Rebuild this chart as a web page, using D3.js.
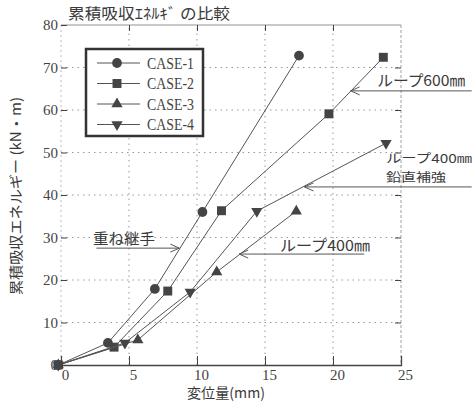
<!DOCTYPE html>
<html>
<head>
<meta charset="utf-8">
<script src="https://cdn.jsdelivr.net/npm/d3@7"></script>
<style>
  body { margin: 0; background: #fff; }
  svg { display: block; }
  .axis path, .axis line { stroke: #444; }
  .jp { font-family: "Noto Sans CJK JP", sans-serif; fill: #3a3a3a; }
</style>
</head>
<body>
<svg id="chart" width="473" height="406"></svg>
<script>
// values
var seriesNames = ["CASE-1", "CASE-2", "CASE-3", "CASE-4"];
var case1X = [-0.2, 3.45, 6.9, 10.4, 17.5];
var case1Y = [0, 5.2, 17.9, 36.0, 72.8];
var case2X = [-0.2, 3.9, 7.85, 11.8, 19.7, 23.7];
var case2Y = [0, 4.2, 17.4, 36.3, 59.1, 72.4];
var case3X = [-0.2, 5.65, 11.45, 17.3];
var case3Y = [0, 5.9, 21.9, 36.2];
var case4X = [-0.2, 4.7, 9.5, 14.4, 23.9];
var case4Y = [0, 5.2, 17.2, 36.2, 52.2];
var xTicks = [0, 5, 10, 15, 20, 25];
var yTicks = [0, 10, 20, 30, 40, 50, 60, 70, 80];

var svg = d3.select("#chart");
var x = d3.scaleLinear().domain([0, 25]).range([61, 401]);
var y = d3.scaleLinear().domain([0, 80]).range([365, 25]);

// dotted grid
var grid = svg.append("g").attr("stroke", "#999").attr("stroke-dasharray", "1.5,4");
grid.selectAll(".gx").data(xTicks.slice(1, -1)).enter().append("line")
    .attr("x1", d => x(d)).attr("x2", d => x(d))
    .attr("y1", y(0)).attr("y2", y(80));
grid.selectAll(".gy").data(yTicks.slice(1, -1)).enter().append("line")
    .attr("x1", x(0)).attr("x2", x(25))
    .attr("y1", d => y(d)).attr("y2", d => y(d));

// frame top / right / left
svg.append("line").attr("x1", x(0)).attr("x2", x(25)).attr("y1", y(80)).attr("y2", y(80))
    .attr("stroke", "#777").attr("stroke-width", 0.8);
svg.append("line").attr("x1", x(25)).attr("x2", x(25)).attr("y1", y(80)).attr("y2", y(0))
    .attr("stroke", "#888").attr("stroke-width", 0.8).attr("stroke-dasharray", "3,2");
svg.append("line").attr("x1", x(0)).attr("x2", x(0)).attr("y1", y(80)).attr("y2", y(0))
    .attr("stroke", "#aaa").attr("stroke-width", 0.8).attr("stroke-dasharray", "2,3");

// axes with inward ticks
function serifTicks(g) {
  g.selectAll("text").attr("font-family", "Liberation Serif, serif")
      .attr("font-size", 15).attr("fill", "#444");
}
svg.append("g").attr("class", "axis")
    .attr("transform", "translate(" + x(0) + ",0)")
    .call(d3.axisLeft(y).tickValues(yTicks).tickSize(-6).tickPadding(3).tickFormat(d3.format("d")))
    .call(g => g.select(".domain").remove())
    .call(serifTicks);
svg.append("g").attr("class", "axis")
    .attr("transform", "translate(0," + y(0) + ")")
    .call(d3.axisBottom(x).tickValues(xTicks).tickSize(-9).tickPadding(1).tickFormat(d3.format("d")))
    .call(g => g.select(".domain").attr("stroke-width", 1.3))
    .call(serifTicks)
    .call(g => g.selectAll("text").attr("dx", 4).attr("dy", "0.9em"));
svg.append("g").attr("class", "axis")
    .attr("transform", "translate(" + x(25) + ",0)")
    .call(d3.axisRight(y).tickValues(yTicks.slice(1, -1)).tickSize(-6).tickFormat(""))
    .call(g => g.select(".domain").remove());
svg.append("g").attr("class", "axis")
    .attr("transform", "translate(0," + y(80) + ")")
    .call(d3.axisTop(x).tickValues(xTicks.slice(1, -1)).tickSize(-6).tickFormat(""))
    .call(g => g.select(".domain").remove());

// series
var series = [
  { name: seriesNames[0], xs: case1X, ys: case1Y, sym: d3.symbolCircle, size: 75 },
  { name: seriesNames[1], xs: case2X, ys: case2Y, sym: d3.symbolSquare, size: 80 },
  { name: seriesNames[2], xs: case3X, ys: case3Y, sym: d3.symbolTriangle, size: 55 },
  { name: seriesNames[3], xs: case4X, ys: case4Y, sym: d3.symbolTriangle, size: 55, flip: true }
];
var line = d3.line().x(d => x(d[0])).y(d => y(d[1]));

series.forEach(function(s) {
  var pts = s.xs.map((v, i) => [v, s.ys[i]]);
  svg.append("path").datum(pts).attr("d", line)
      .attr("fill", "none").attr("stroke", "#555").attr("stroke-width", 1);
  svg.selectAll(null).data(pts).enter().append("path")
      .attr("d", d3.symbol().type(s.sym).size(s.size))
      .attr("transform", d => "translate(" + x(d[0]) + "," + y(d[1]) + ")" + (s.flip ? " rotate(180)" : ""))
      .attr("fill", "#444");
});

// legend
var lg = svg.append("g");
lg.append("rect").attr("x", 86).attr("y", 49).attr("width", 117).attr("height", 87)
    .attr("fill", "#fff").attr("stroke", "#333").attr("stroke-width", 2.5);
series.forEach(function(s, i) {
  var ly = 63 + i * 20.5;
  lg.append("line").attr("x1", 97).attr("x2", 140).attr("y1", ly).attr("y2", ly)
      .attr("stroke", "#555");
  lg.append("path").attr("d", d3.symbol().type(s.sym).size(s.size)())
      .attr("transform", "translate(117," + ly + ")" + (s.flip ? " rotate(180)" : ""))
      .attr("fill", "#444");
  lg.append("text").attr("x", 147).attr("y", ly + 5.5)
      .attr("font-family", "Liberation Serif, serif").attr("font-size", 16)
      .attr("textLength", 47).attr("lengthAdjust", "spacingAndGlyphs")
      .attr("fill", "#444").text(s.name);
});

// titles
svg.append("text").attr("class", "jp").attr("x", 68).attr("y", 19)
    .attr("font-size", 15).attr("textLength", 162).attr("lengthAdjust", "spacingAndGlyphs")
    .text("累積吸収ｴﾈﾙｷﾞ の比較");
svg.append("text").attr("class", "jp").attr("font-size", 14)
    .attr("transform", "translate(21,196) rotate(-90)").attr("text-anchor", "middle")
    .attr("textLength", 198).attr("lengthAdjust", "spacingAndGlyphs")
    .text("累積吸収エネルギー (kN・m)");
svg.append("text").attr("class", "jp").attr("x", 187).attr("y", 398)
    .attr("font-size", 14).attr("textLength", 78).attr("lengthAdjust", "spacingAndGlyphs")
    .text("変位量(mm)");

// annotations: label + open arrow
function arrow(x1, x2, yv, tipRight) {
  var yy = y(yv), tx = tipRight ? x(x2) : x(x1), d = tipRight ? -9 : 9;
  svg.append("line").attr("x1", x(x1)).attr("x2", x(x2)).attr("y1", yy).attr("y2", yy)
      .attr("stroke", "#555").attr("stroke-width", 1);
  svg.append("path").attr("d", "M" + (tx + d) + "," + (yy - 4) + "L" + tx + "," + yy + "L" + (tx + d) + "," + (yy + 4))
      .attr("fill", "none").attr("stroke", "#555").attr("stroke-width", 1);
}
function label(txt, xv, yv, w, fs) {
  svg.append("text").attr("class", "jp").attr("x", x(xv)).attr("y", y(yv))
      .attr("font-size", fs || 15).attr("textLength", w).attr("lengthAdjust", "spacingAndGlyphs").text(txt);
}
arrow(21.3, 30.2, 64.5, false);
label("ループ600㎜", 23.25, 65.7, 88);
arrow(17.9, 30.2, 41.9, false);
label("ループ400㎜", 23.9, 47.5, 86, 12);
label("鉛直補強", 23.9, 43.1, 60, 12);
arrow(13.1, 22.3, 26.1, false);
label("ループ400㎜", 16.1, 26.9, 90);
arrow(2.6, 8.7, 27.5, true);
label("重ね継手", 2.35, 28.5, 62);
</script>
</body>
</html>
